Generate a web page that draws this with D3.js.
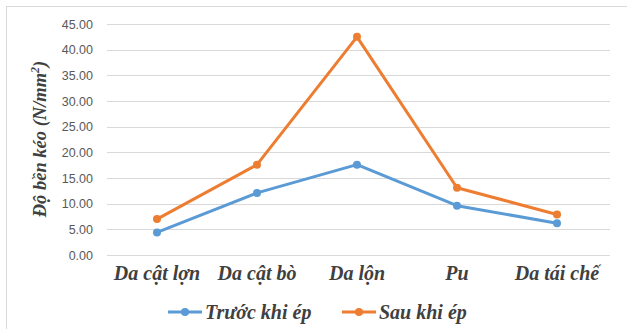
<!DOCTYPE html>
<html><head><meta charset="utf-8">
<script src="https://cdn.jsdelivr.net/npm/d3@7"></script>
<style>body{margin:0;background:#fff}svg{display:block}</style>
</head><body>
<svg id="c" width="627" height="329"></svg>
<script>
const categories = ["Da cật lợn", "Da cật bò", "Da lộn", "Pu", "Da tái chế"];
const truocKhiEp = [4.4, 12.1, 17.6, 9.6, 6.2];
const sauKhiEp = [7.0, 17.6, 42.5, 13.1, 7.9];
const seriesNames = ["Trước khi ép", "Sau khi ép"];
const yTicks = [0, 5, 10, 15, 20, 25, 30, 35, 40, 45];

const svg = d3.select("#c");
const colors = ["#5B9BD5", "#ED7D31"];
const serif = "'Liberation Serif','Times New Roman',serif";

// outer border
svg.append("rect").attr("x", 6.5).attr("y", 6.5).attr("width", 640).attr("height", 340)
  .attr("fill", "none").attr("stroke", "#d9d9d9").attr("stroke-width", 1);

const x = d3.scaleBand().domain(categories).range([107, 607]);
const y = d3.scaleLinear().domain([0, 45]).range([255, 24]);

// gridlines
svg.append("g").selectAll("line").data(yTicks).join("line")
  .attr("x1", 107).attr("x2", 610)
  .attr("y1", d => Math.round(y(d)) + 0.5).attr("y2", d => Math.round(y(d)) + 0.5)
  .attr("stroke", "#d9d9d9").attr("stroke-width", 1);

// y axis labels
const yAxis = d3.axisLeft(y).tickValues(yTicks).tickFormat(d3.format(".2f")).tickSize(0).tickPadding(0);
const gy = svg.append("g").attr("transform", "translate(93,0)").call(yAxis);
gy.select(".domain").remove();
gy.selectAll("text").attr("fill", "#595959").attr("font-size", 12.5)
  .attr("font-family", "'Liberation Sans', Arial, sans-serif");

// x axis labels
const xAxis = d3.axisBottom(x).tickSize(0).tickPadding(0);
const gx = svg.append("g").attr("transform", "translate(0,266)").call(xAxis);
gx.select(".domain").remove();
gx.selectAll("text").attr("fill", "#404040").attr("font-size", 20)
  .attr("font-family", serif).attr("font-style", "italic").attr("font-weight", "bold");

// y title
const yt = svg.append("text").attr("transform", "translate(46,139) rotate(-90)")
  .attr("text-anchor", "middle").attr("fill", "#404040").attr("font-size", 18.5)
  .attr("font-family", serif).attr("font-style", "italic").attr("font-weight", "bold");
yt.append("tspan").text("Độ bền kéo (N/mm");
yt.append("tspan").attr("dy", -7).attr("font-size", 12).text("2");
yt.append("tspan").attr("dy", 7).text(")");

// lines
const series = [truocKhiEp, sauKhiEp];
const line = d3.line().x((d, i) => x(categories[i]) + x.bandwidth() / 2).y(d => y(d));
series.forEach((s, k) => {
  const g = svg.append("g");
  g.append("path").datum(s).attr("d", line).attr("fill", "none")
    .attr("stroke", colors[k]).attr("stroke-width", 3).attr("stroke-linejoin", "round");
  g.selectAll("circle").data(s).join("circle")
    .attr("cx", (d, i) => x(categories[i]) + x.bandwidth() / 2).attr("cy", d => y(d))
    .attr("r", 4).attr("fill", colors[k]);
});

// legend
const legX = [168, 342];
seriesNames.forEach((n, k) => {
  const g = svg.append("g").attr("transform", `translate(${legX[k]},312)`);
  g.append("line").attr("x1", 0).attr("x2", 34).attr("stroke", colors[k]).attr("stroke-width", 3);
  g.append("circle").attr("cx", 17).attr("r", 4).attr("fill", colors[k]);
  g.append("text").attr("x", 37).attr("y", 6.5).attr("fill", "#404040").attr("font-size", 20)
    .attr("font-family", serif).attr("font-style", "italic").attr("font-weight", "bold").text(n);
});
</script>
</body></html>
